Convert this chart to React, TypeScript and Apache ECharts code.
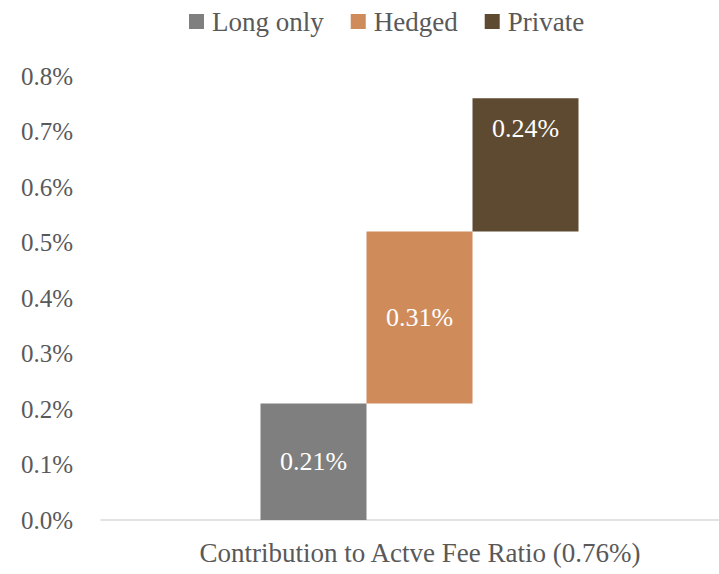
import React, { useEffect, useRef } from "react";
import * as echarts from "echarts";

const categories = ["Contribution to Actve Fee Ratio (0.76%)"];
const seriesNames = ["Long only", "Hedged", "Private"];
const contributions = [0.21, 0.31, 0.24];
const bases = [0, 0.21, 0.52];
const colors = ["#7f7f7f", "#d08b5b", "#5e4a31"];
const yTicks = [0, 0.1, 0.2, 0.3, 0.4, 0.5, 0.6, 0.7, 0.8];

const FONT = "Liberation Serif";
const TEXT = "#595959";

export default function App() {
  const ref = useRef<HTMLDivElement>(null);
  useEffect(() => {
    if (!ref.current) return;
    const chart = echarts.init(ref.current, null, { renderer: "svg" });
    const series: any[] = [
      {
        // empty spacer stack: offsets the group to match the reference layout
        name: "spacer",
        type: "bar",
        stack: "spacer",
        barWidth: 19,
        barGap: "0%",
        silent: true,
        itemStyle: { color: "transparent" },
        data: [0],
      },
    ];
    seriesNames.forEach((name, i) => {
      series.push({
        name: "base" + i,
        type: "bar",
        stack: "s" + i,
        barWidth: 106,
        barGap: "0%",
        silent: true,
        itemStyle: { color: "transparent" },
        data: [bases[i]],
      });
      series.push({
        name,
        type: "bar",
        stack: "s" + i,
        barWidth: 106,
        barGap: "0%",
        itemStyle: { color: colors[i] },
        label: {
          show: true,
          position: i === 2 ? "insideTop" : "inside",
          distance: 17,
          color: "#ffffff",
          fontFamily: FONT,
          fontSize: 26,
          formatter: (p: any) => p.value.toFixed(2) + "%",
        },
        data: [contributions[i]],
      });
    });
    chart.setOption({
      animation: false,
      textStyle: { fontFamily: FONT },
      legend: {
        data: seriesNames,
        top: 3,
        left: 184,
        icon: "rect",
        itemWidth: 15,
        itemHeight: 15,
        itemGap: 27,
        textStyle: { color: TEXT, fontFamily: FONT, fontSize: 27, padding: [0, 0, 0, 3] },
      },
      grid: { left: 101, top: 76, right: 0, bottom: 54, containLabel: false },
      xAxis: {
        type: "category",
        data: categories,
        axisLine: { lineStyle: { color: "#d9d9d9", width: 1.5 } },
        axisTick: { show: false },
        axisLabel: {
          color: TEXT,
          fontFamily: FONT,
          fontSize: 27,
          margin: 19,
          padding: [0, 0, 0, 20],
        },
      },
      yAxis: {
        type: "value",
        min: yTicks[0],
        max: yTicks[yTicks.length - 1],
        interval: 0.1,
        splitLine: { show: false },
        axisLine: { show: false },
        axisTick: { show: false },
        axisLabel: {
          color: TEXT,
          fontFamily: FONT,
          fontSize: 25,
          margin: 28,
          formatter: (v: number) => v.toFixed(1) + "%",
        },
      },
      series,
    });
    return () => chart.dispose();
  }, []);
  return (
    <div
      ref={ref}
      style={{ position: "fixed", left: 0, top: 0, width: 719, height: 574, background: "#fff" }}
    />
  );
}
